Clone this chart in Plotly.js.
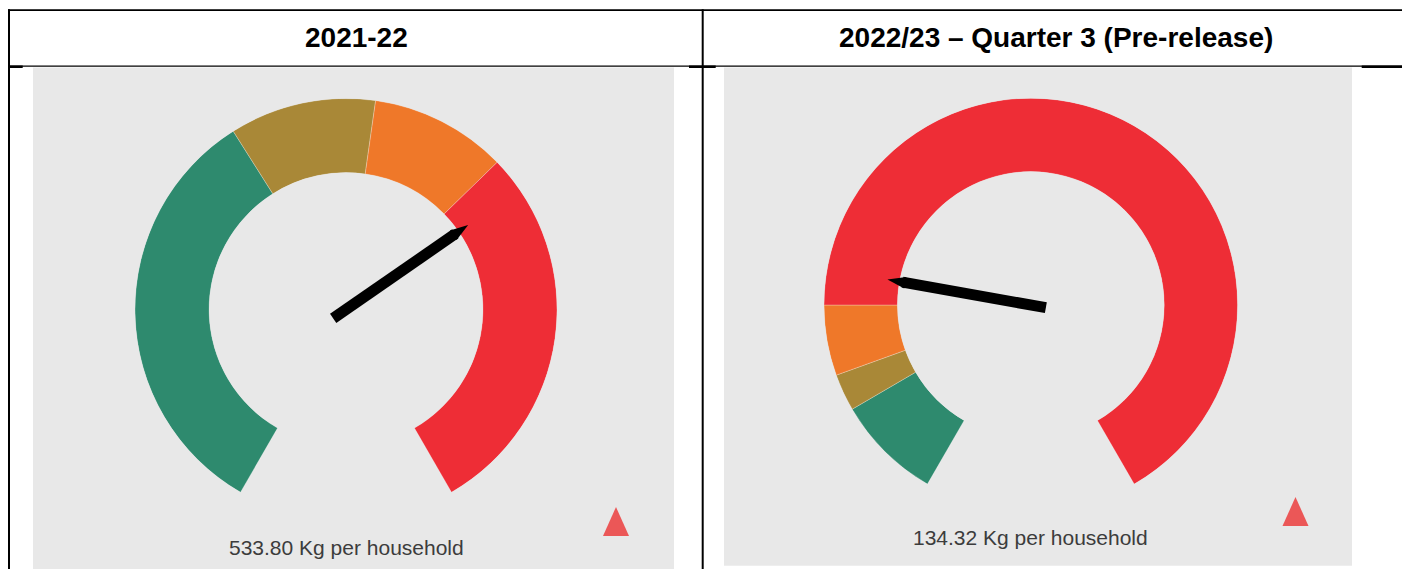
<!DOCTYPE html>
<html>
<head>
<meta charset="utf-8">
<script src="https://cdn.plot.ly/plotly-3.0.1.min.js"></script>
<style>
  html, body { margin: 0; padding: 0; background: #ffffff; }
  #chart { width: 1402px; height: 569px; }
</style>
</head>
<body>
<div id="chart"></div>
<script>
// ---------- data ----------
const panelTitles = ['2021-22', '2022/23 \u2013 Quarter 3 (Pre-release)'];
const gaugeValues = [533.80, 134.32];
const valueUnit = 'Kg per household';
const gaugeMin = [0, 0];
const gaugeMax = [780, 575];
const bandLimits2021 = [306, 411, 509];
const bandLimitsQ3 = [57, 77, 115];
const bandColors = ['#2e8a6e', '#a98837', '#ef7829', '#ee2d36'];
const trendSymbol = ['up', 'up'];

// ---------- helpers ----------
const W = 1402, H = 569;
const px = x => x / W;
const py = y => 1 - y / H;
const SWEEP = 300, START = -150;
function toAngle(v, i) {
  return START + SWEEP * (v - gaugeMin[i]) / (gaugeMax[i] - gaugeMin[i]);
}

const gauges = [
  { cx: 346, cy: 309.5, R: 211, hole: 0.649, limits: bandLimits2021,
    titleX: 356, labelY: 547, tri: [616, 507, 536] },
  { cx: 1030.8, cy: 305, R: 206.8, hole: 0.645, limits: bandLimitsQ3,
    titleX: 1056, labelY: 537, tri: [1295.5, 497, 526] }
];

const traces = [];
const layout = {
  width: W, height: H,
  margin: { l: 0, r: 0, t: 0, b: 0, pad: 0 },
  paper_bgcolor: '#ffffff',
  showlegend: false,
  hovermode: false,
  font: { family: 'Liberation Sans, Arial, sans-serif' },
  shapes: [],
  annotations: []
};

function rect(x0, y0, x1, y1, color, layer) {
  layout.shapes.push({ type: 'rect', xref: 'paper', yref: 'paper',
    x0: px(x0), x1: px(x1), y0: py(y1), y1: py(y0),
    fillcolor: color, line: { width: 0 }, layer: layer || 'above' });
}

// grey panels
rect(33, 67.5, 674, 569, '#e8e8e8', 'below');
rect(724, 67.5, 1352, 565.7, '#e8e8e8', 'below');

// table borders
rect(8, 9.3, 1402, 11, '#000000');
rect(8, 9.3, 10, 569, '#000000');
rect(701.7, 9.3, 703.7, 569, '#000000');
rect(8, 65.5, 1402, 66.8, '#000000');
rect(10, 65.5, 22.7, 68, '#000000');
rect(689, 65.5, 715.7, 68, '#000000');
rect(1361.7, 65.5, 1402, 68, '#000000');

gauges.forEach((g, i) => {
  const polarBand = i === 0 ? 'polar' : 'polar3';
  const polarNeedle = i === 0 ? 'polar2' : 'polar4';
  const dom = {
    x: [px(g.cx - g.R), px(g.cx + g.R)],
    y: [py(g.cy + g.R), py(g.cy - g.R)]
  };
  const angAxis = { visible: false, rotation: 90, direction: 'clockwise' };
  const radAxis = { visible: false, range: [0, 1] };
  layout[polarBand] = { domain: dom, hole: g.hole, bgcolor: 'rgba(0,0,0,0)',
    radialaxis: radAxis, angularaxis: angAxis };
  layout[polarNeedle] = { domain: dom, hole: 0, bgcolor: 'rgba(0,0,0,0)',
    radialaxis: { visible: false, range: [0, 1] },
    angularaxis: { visible: false, rotation: 90, direction: 'clockwise' } };

  // bands
  const edges = [gaugeMin[i]].concat(g.limits, [gaugeMax[i]]);
  const thetas = [], widths = [], rs = [];
  for (let k = 0; k < edges.length - 1; k++) {
    const a0 = toAngle(edges[k], i), a1 = toAngle(edges[k + 1], i);
    thetas.push((a0 + a1) / 2);
    widths.push(a1 - a0);
    rs.push(1);
  }
  traces.push({
    type: 'barpolar', subplot: polarBand,
    r: rs, theta: thetas, width: widths, base: 0,
    marker: { color: bandColors, line: { color: 'rgba(255,255,255,0.45)', width: 0.6 } },
    hoverinfo: 'skip'
  });

  // needle
  const ang = toAngle(gaugeValues[i], i);
  traces.push({
    type: 'scatterpolar', subplot: polarNeedle, mode: 'lines',
    r: [0.074, 0.63], theta: [ang + 180, ang],
    line: { color: '#000000', width: 11 }, hoverinfo: 'skip'
  });
  traces.push({
    type: 'scatterpolar', subplot: polarNeedle, mode: 'markers',
    r: [0.704], theta: [ang],
    marker: { symbol: 'arrow', size: 19, angle: ang, color: '#000000', line: { width: 0 } },
    hoverinfo: 'skip'
  });

  // header title
  layout.annotations.push({
    xref: 'paper', yref: 'paper', x: px(g.titleX), y: py(38),
    xanchor: 'center', yanchor: 'middle', showarrow: false,
    text: '<b>' + panelTitles[i] + '</b>',
    font: { family: 'Liberation Sans, Arial, sans-serif', size: 28, color: '#000000' }
  });
  // value label
  layout.annotations.push({
    xref: 'paper', yref: 'paper', x: px(g.cx), y: py(g.labelY),
    xanchor: 'center', yanchor: 'middle', showarrow: false,
    text: gaugeValues[i].toFixed(2) + ' ' + valueUnit,
    font: { family: 'Liberation Sans, Arial, sans-serif', size: 21, color: '#3c3c3c' }
  });
  // trend triangle indicator
  if (trendSymbol[i] === 'up') {
    const t = g.tri;
    layout.shapes.push({
      type: 'path', xref: 'paper', yref: 'paper',
      path: 'M ' + px(t[0]) + ' ' + py(t[1]) + ' L ' + px(t[0] + 13) + ' ' + py(t[2]) +
            ' L ' + px(t[0] - 13) + ' ' + py(t[2]) + ' Z',
      fillcolor: '#eb5757', line: { width: 0 }, layer: 'above'
    });
  }
});

Plotly.newPlot('chart', traces, layout, { staticPlot: true, displayModeBar: false });
</script>
</body>
</html>
